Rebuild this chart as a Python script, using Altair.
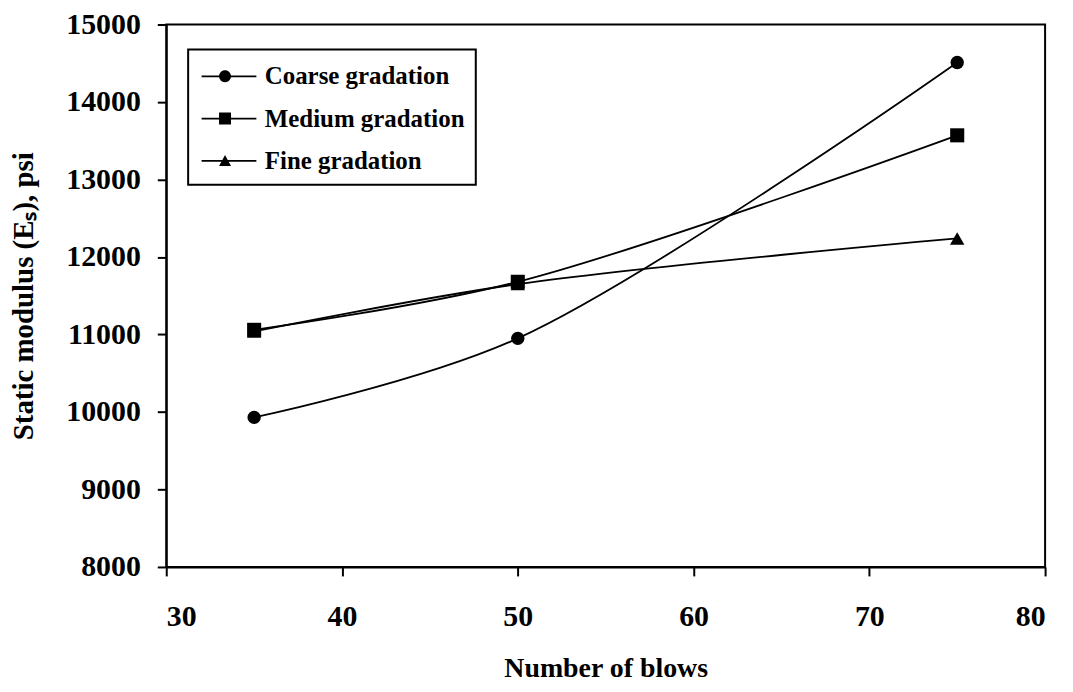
import altair as alt
import pandas as pd

blows = [35, 50, 75]
coarse = [9930, 10950, 14510]
medium = [11060, 11680, 13570]
fine = [11040, 11650, 12240]
series_names = ["Coarse gradation", "Medium gradation", "Fine gradation"]
x_ticks = [30, 40, 50, 60, 70, 80]
y_ticks = [8000, 9000, 10000, 11000, 12000, 13000, 14000, 15000]

rows = []
for name, vals in zip(series_names, [coarse, medium, fine]):
    for b, v in zip(blows, vals):
        rows.append({"blows": b, "modulus": v, "series": name})
df = pd.DataFrame(rows)

FONT = "Liberation Serif"

# legend symbols: a thin bar (the line) with the marker drawn on it, all filled
legend_paths = [
    "M-0.9,-0.06H2.77V0.06H-0.9Z M1.07,0A0.4,0.4,0,1,1,0.27,0A0.4,0.4,0,1,1,1.07,0Z",
    "M-0.9,-0.06H2.77V0.06H-0.9Z M0.27,-0.4H1.07V0.4H0.27Z",
    "M-0.9,-0.06H2.77V0.06H-0.9Z M0.27,0.35L0.67,-0.4L1.07,0.35Z",
]

x_enc = alt.X("blows:Q", scale=alt.Scale(domain=[30, 80], nice=False, zero=False),
              axis=alt.Axis(values=x_ticks, title="Number of blows", labelPadding=26,
                            titlePadding=23, titleFontSize=28))
y_enc = alt.Y("modulus:Q", scale=alt.Scale(domain=[8000, 15000], nice=False, zero=False),
              axis=alt.Axis(values=y_ticks, format="d", title="Static modulus (Eₛ), psi",
                            labelPadding=17, titlePadding=27))

base = alt.Chart(df)

lines = base.mark_line(interpolate="catmull-rom", color="black", strokeWidth=1.8).encode(
    x=x_enc, y=y_enc, detail="series:N"
)

shapes = {"Coarse gradation": ("circle", 180), "Medium gradation": ("square", 200),
          "Fine gradation": ("triangle-up", 210)}
point_layers = []
for name in series_names:
    shp, sz = shapes[name]
    point_layers.append(
        base.transform_filter(alt.datum.series == name)
        .mark_point(shape=shp, size=sz, filled=True, color="black", opacity=1)
        .encode(x=x_enc, y=y_enc)
    )

legend_layer = base.transform_filter("false").mark_point(
    filled=True, color="black", opacity=1
).encode(
    x=x_enc, y=y_enc,
    shape=alt.Shape("series:N", scale=alt.Scale(domain=series_names, range=legend_paths),
                    legend=alt.Legend(title=None, orient="none", legendX=22, legendY=25,
                                      symbolSize=900, labelFont=FONT, labelFontWeight="bold",
                                      labelFontSize=25, labelColor="black", labelLimit=400,
                                      labelOffset=34, rowPadding=13.5,
                                      symbolFillColor="black", symbolOpacity=1,
                                      padding=11, strokeColor="black", fillColor="white")),
)

chart = alt.layer(lines, *point_layers, legend_layer).properties(
    width=883, height=545,
    autosize=alt.AutoSizeParams(type="none"),
    padding={"left": 159, "top": 15, "right": 20, "bottom": 116},
).configure_view(stroke="black", strokeWidth=2).configure_axis(
    grid=False, domainColor="black", domainWidth=2, tickColor="black", tickWidth=2,
    tickSize=9, labelFont=FONT, labelFontWeight="bold", labelFontSize=30,
    labelColor="black", titleFont=FONT, titleFontWeight="bold", titleFontSize=29,
    titleColor="black"
).configure_legend(strokeWidth=2)

chart.save("out.html", embed_options={"renderer": "svg", "actions": False})
